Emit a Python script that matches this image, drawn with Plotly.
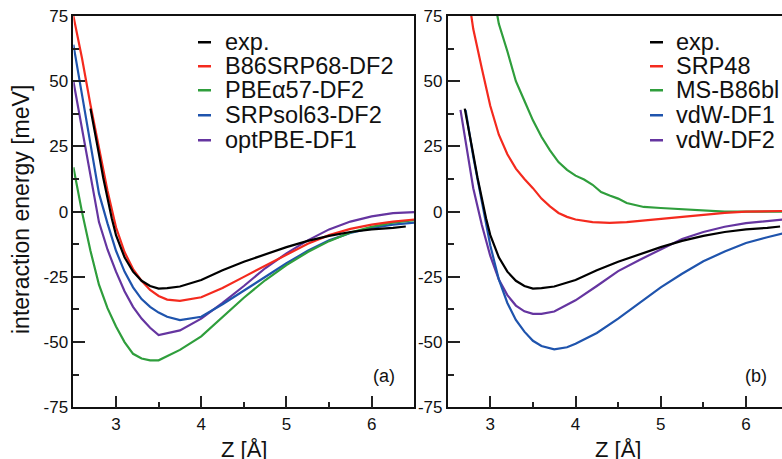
import plotly.graph_objects as go

# ---------------- data ----------------
# Panel (a)
exp_z = [2.70, 2.75, 2.80, 2.85, 2.90, 2.95, 3.00, 3.10, 3.20, 3.30, 3.40, 3.50, 3.60, 3.75,
         4.00, 4.25, 4.50, 4.75, 5.00, 5.25, 5.50, 5.75, 6.00, 6.25, 6.40]
exp_e = [39.5, 30.0, 22.0, 13.0, 5.0, -2.5, -9.0, -17.5, -23.0, -26.5, -28.5, -29.5, -29.3, -28.7,
         -26.2, -22.5, -19.2, -16.3, -13.6, -11.2, -9.3, -7.8, -6.8, -6.2, -5.7]

za = [2.50, 2.60, 2.70, 2.80, 2.90, 3.00, 3.10, 3.20, 3.30, 3.40, 3.50, 3.60, 3.75,
      4.00, 4.25, 4.50, 4.75, 5.00, 5.25, 5.50, 5.75, 6.00, 6.25, 6.50]
b86srp68_e = [75.0, 59.0, 41.0, 24.0, 8.0, -6.0, -15.5, -22.0, -26.5, -30.0, -32.3, -33.7, -34.2,
              -32.8, -29.3, -25.0, -20.8, -16.5, -12.3, -9.0, -6.6, -5.0, -3.8, -3.0]
pbe57_e = [17.0, 0.0, -15.0, -28.0, -37.0, -44.0, -50.0, -54.5, -56.3, -57.0, -57.0, -55.5, -53.0,
           -47.8, -40.5, -33.0, -26.3, -20.5, -15.5, -11.3, -8.0, -5.8, -4.2, -3.3]
srpsol63_e = [64.0, 45.0, 25.0, 7.0, -4.5, -15.0, -23.0, -29.0, -33.5, -36.5, -38.7, -40.3, -41.6,
              -40.3, -35.5, -30.3, -24.8, -19.8, -15.0, -11.0, -8.2, -6.2, -5.0, -4.2]
optpbe_e = [50.0, 32.0, 14.0, -4.0, -14.5, -23.0, -30.5, -36.5, -41.0, -44.5, -47.3, -46.5, -45.5,
            -41.0, -35.0, -28.5, -21.7, -16.0, -11.0, -6.8, -3.8, -1.8, -0.6, -0.2]

# Panel (b)
srp48_z = [2.70, 2.80, 2.90, 3.00, 3.10, 3.20, 3.30, 3.40, 3.50, 3.60, 3.70, 3.80, 3.90, 4.00,
           4.20, 4.40, 4.60, 4.80, 5.00, 5.25, 5.50, 5.75, 6.00, 6.25, 6.50]
srp48_e = [92.0, 70.0, 55.0, 40.5, 29.5, 22.0, 16.5, 12.5, 9.0, 5.0, 2.0, -0.5, -2.0, -3.0,
           -4.0, -4.3, -4.0, -3.4, -2.7, -1.9, -1.1, -0.5, 0.0, 0.2, 0.3]
msb86_z = [3.00, 3.10, 3.20, 3.30, 3.40, 3.50, 3.60, 3.70, 3.80, 3.90, 4.00, 4.10, 4.20, 4.30,
           4.40, 4.50, 4.60, 4.70, 4.80, 5.00, 5.25, 5.50, 5.75, 6.00, 6.50]
msb86_e = [90.0, 72.0, 61.5, 50.0, 42.5, 35.0, 28.7, 23.5, 19.0, 16.0, 13.8, 12.3, 10.3, 7.5,
           6.2, 5.0, 3.3, 2.5, 1.8, 1.4, 0.9, 0.3, 0.0, 0.0, 0.0]
vdw1_z = [2.71, 2.80, 2.90, 3.00, 3.10, 3.20, 3.30, 3.40, 3.50, 3.60, 3.75, 3.90, 4.00,
          4.25, 4.50, 4.75, 5.00, 5.25, 5.50, 5.75, 6.00, 6.25, 6.50]
vdw1_e = [39.0, 21.0, 4.0, -13.0, -26.0, -35.0, -41.5, -46.0, -49.5, -51.5, -52.8, -52.0, -50.6,
          -46.5, -41.0, -35.0, -29.0, -23.8, -19.0, -15.3, -12.0, -9.8, -7.8]
vdw2_z = [2.65, 2.70, 2.80, 2.90, 3.00, 3.10, 3.20, 3.30, 3.40, 3.50, 3.60, 3.75, 4.00,
          4.25, 4.50, 4.75, 5.00, 5.25, 5.50, 5.75, 6.00, 6.25, 6.50]
vdw2_e = [39.0, 29.5, 9.0, -5.0, -17.0, -26.0, -32.0, -36.0, -38.2, -39.2, -39.2, -38.3, -34.0,
          -28.5, -22.8, -18.5, -14.5, -10.5, -7.8, -5.8, -4.4, -3.5, -2.8]

legend_a = ["exp.", "B86SRP68-DF2", "PBE\u03b157-DF2", "SRPsol63-DF2", "optPBE-DF1"]
legend_b = ["exp.", "SRP48", "MS-B86bl", "vdW-DF1", "vdW-DF2"]

y_tickvals = [-75, -50, -25, 0, 25, 50, 75]
y_ticktext = ["-75", "-50", "-25", "0", "25", "50", "75"]
x_tickvals = [3, 4, 5, 6]
x_ticktext = ["3", "4", "5", "6"]

# ---------------- styles ----------------
BLACK = "#000000"
RED = "#f42a1e"
GREEN = "#2f9e3c"
BLUE = "#1f54ad"
PURPLE = "#6535a0"
colors = [BLACK, RED, GREEN, BLUE, PURPLE]
FONT = "Liberation Sans, Arial, Helvetica, sans-serif"
LW = 2.2

W, H = 782, 459

fig = go.Figure()

series_a = [(exp_z, exp_e), (za, b86srp68_e), (za, pbe57_e), (za, srpsol63_e), (za, optpbe_e)]
series_b = [(exp_z, exp_e), (srp48_z, srp48_e), (msb86_z, msb86_e), (vdw1_z, vdw1_e), (vdw2_z, vdw2_e)]

# draw order: colored first, exp on top
for i in [4, 3, 2, 1, 0]:
    z, e = series_a[i]
    fig.add_trace(go.Scatter(x=z, y=e, mode="lines", name=legend_a[i], showlegend=False,
                             line=dict(color=colors[i], width=LW), xaxis="x", yaxis="y"))
for i in [4, 3, 2, 1, 0]:
    z, e = series_b[i]
    fig.add_trace(go.Scatter(x=z, y=e, mode="lines", name=legend_b[i], showlegend=False,
                             line=dict(color=colors[i], width=LW), xaxis="x2", yaxis="y2"))

# pixel geometry
x0a, x1a = 73.4, 414.3
x0b = 447.7
ytop, ybot = 16.0, 407.3
pxu = (x1a - x0a) / 4.0

axis_common = dict(showgrid=False, zeroline=False, showline=True, linecolor="#111111", linewidth=1.6,
                   ticks="inside", ticklen=12, tickwidth=1.6, tickcolor="#222222", automargin=False,
                   tickfont=dict(family=FONT, size=17, color="#111111"))
minor_x = dict(dtick=0.5, tick0=2.5, ticks="inside", ticklen=6, tickwidth=1.6, tickcolor="#222222")
minor_y = dict(dtick=12.5, tick0=0, ticks="inside", ticklen=6, tickwidth=1.6, tickcolor="#222222")

fig.update_layout(
    width=W, height=H, margin=dict(l=0, r=0, t=0, b=0, pad=0), autosize=False,
    paper_bgcolor="white", plot_bgcolor="white", showlegend=False,
    xaxis=dict(domain=[x0a / W, x1a / W], range=[2.5, 6.5], tickmode="array", tickvals=x_tickvals,
               ticktext=x_ticktext, mirror=True, minor=minor_x, anchor="y", **axis_common),
    yaxis=dict(domain=[1 - ybot / H, 1 - ytop / H], range=[-75, 75], tickmode="array", tickvals=y_tickvals,
               ticktext=y_ticktext, mirror=True, minor=minor_y, anchor="x", **axis_common),
    xaxis2=dict(domain=[x0b / W, 1.0], range=[2.5, 2.5 + (W - x0b) / pxu], tickmode="array",
                tickvals=x_tickvals, ticktext=x_ticktext, mirror=True, minor=minor_x, anchor="y2",
                **axis_common),
    yaxis2=dict(domain=[1 - ybot / H, 1 - ytop / H], range=[-75, 75], tickmode="array", tickvals=y_tickvals,
                ticktext=y_ticktext, mirror=False, minor=minor_y, anchor="x2", **axis_common),
)

def zval(px, x0):
    return 2.5 + (px - x0) / pxu

def yval(py):
    return (211.5 - py) / ((ybot - ytop) / 150.0)

leg_py = [42, 66, 90, 115, 140]
shapes = []
annotations = []
for (x0, names, xr, yr) in [(x0a, legend_a, "x", "y"), (x0b, legend_b, "x2", "y2")]:
    if xr == "x":
        d0, d1, t0 = 198, 211, 223
    else:
        d0, d1, t0 = 650, 663, 674
    for i, nm in enumerate(names):
        yy = yval(leg_py[i])
        shapes.append(dict(type="line", xref=xr, yref=yr, x0=zval(d0, x0), x1=zval(d1, x0),
                           y0=yy, y1=yy, line=dict(color=colors[i], width=2.5)))
        annotations.append(dict(xref=xr, yref=yr, x=zval(t0, x0), y=yy, text=nm, showarrow=False,
                                xanchor="left", yanchor="middle",
                                font=dict(family=FONT, size=23.5, color="#111111")))

annotations.append(dict(xref="x", yref="y", x=zval(384, x0a), y=yval(376), text="(a)", showarrow=False,
                        xanchor="center", yanchor="middle", font=dict(family=FONT, size=18, color="#111111")))
annotations.append(dict(xref="x2", yref="y2", x=zval(756, x0b), y=yval(376), text="(b)", showarrow=False,
                        xanchor="center", yanchor="middle", font=dict(family=FONT, size=18, color="#111111")))

annotations.append(dict(xref="paper", yref="paper", x=21 / W, y=1 - 210 / H, text="interaction energy [meV]",
                        textangle=-90, showarrow=False, xanchor="center", yanchor="middle",
                        font=dict(family=FONT, size=23, color="#111111")))
for cx in [244, 618]:
    annotations.append(dict(xref="paper", yref="paper", x=cx / W, y=1 - 449 / H, text="Z [\u00c5]",
                            showarrow=False, xanchor="center", yanchor="middle",
                            font=dict(family=FONT, size=22, color="#111111")))

fig.update_layout(shapes=shapes, annotations=annotations)
fig.write_html("out.html")
